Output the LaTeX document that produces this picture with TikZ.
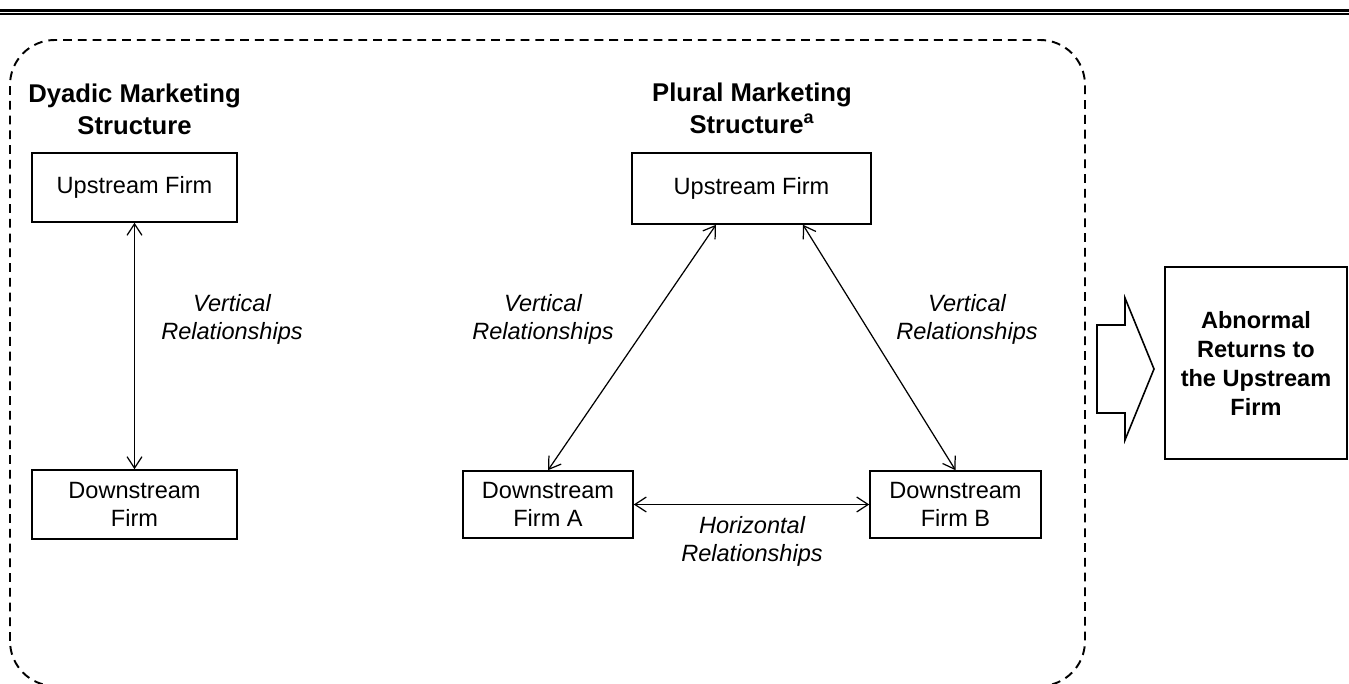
\documentclass[tikz,border=0pt]{standalone}
\usepackage{fontspec}
\setmainfont{Liberation Sans}
\usetikzlibrary{arrows.meta}

\begin{document}
\begin{tikzpicture}[
        >={Straight Barb[length=6.5pt,width=8.5pt]},
        firm/.style={draw, line width=0.9pt, align=center, inner sep=0pt, font=\fontsize{13.4}{16}\selectfont},
        titel/.style={align=center, font=\bfseries\fontsize{14.6}{18.2}\selectfont},
        bez/.style={align=center, font=\itshape\fontsize{13.4}{16}\selectfont},
        pfeil/.style={<->, line width=0.7pt}
    ]
            \clip (0, 0) rectangle (26.98, 13.68);

            % Linien oben
            \draw[line width=1.5pt] (0, 13.474) -- (26.98, 13.474);
            \draw[line width=1.1pt] (0, 13.404) -- (26.98, 13.404);

            % Rahmen
            \draw[line width=1.1pt, dash pattern=on 5pt off 3.4pt, rounded corners=0.9cm] (0.2, -0.04) rectangle (21.7, 12.88);

            % Dyadische Struktur
            \node[titel] (dtitel) at (2.69, 11.5) {Dyadic Marketing\\Structure};
            \node[firm, minimum width=4.1cm, minimum height=1.38cm] (dup) at (2.69, 9.93) {Upstream Firm};
            \node[firm, minimum width=4.1cm, minimum height=1.38cm] (ddown) at (2.69, 3.59) {Downstream\\Firm};
            \draw[pfeil] (dup.south) -- (ddown.north);
            \node[bez] (dvert) at (4.64, 7.3) {Vertical\\Relationships};

            % Plurale Struktur
            \node[titel] (ptitel) at (15.04, 11.52) {Plural Marketing\\Structure\textsuperscript{a}};
            \node[firm, minimum width=4.78cm, minimum height=1.42cm] (pup) at (15.03, 9.91) {Upstream Firm};
            \node[firm, minimum width=3.4cm, minimum height=1.34cm] (pa) at (10.96, 3.59) {Downstream\\Firm A};
            \node[firm, minimum width=3.42cm, minimum height=1.34cm] (pb) at (19.11, 3.59) {Downstream\\Firm B};
            \draw[pfeil] ([xshift=-0.71cm]pup.south) -- (pa.north);
            \draw[pfeil] ([xshift=1.03cm]pup.south) -- (pb.north);
            \draw[pfeil] (pa.east) -- (pb.west);
            \node[bez] (pvertl) at (10.86, 7.3) {Vertical\\Relationships};
            \node[bez] (pvertr) at (19.34, 7.3) {Vertical\\Relationships};
            \node[bez] (phor) at (15.04, 2.86) {Horizontal\\Relationships};

            % Blockpfeil und Ergebnis
            \draw[line width=0.9pt] (21.94, 7.18) -- (22.5, 7.18) -- (22.5, 7.72) -- (23.08, 6.3) -- (22.5, 4.88) -- (22.5, 5.42) -- (21.94, 5.42) -- cycle;
            \node[firm, minimum width=3.64cm, minimum height=3.84cm, font=\bfseries\fontsize{13.4}{16.5}\selectfont] (abn) at (25.12, 6.42) {Abnormal\\Returns to\\the Upstream\\Firm};
        \end{tikzpicture}
\end{document}
